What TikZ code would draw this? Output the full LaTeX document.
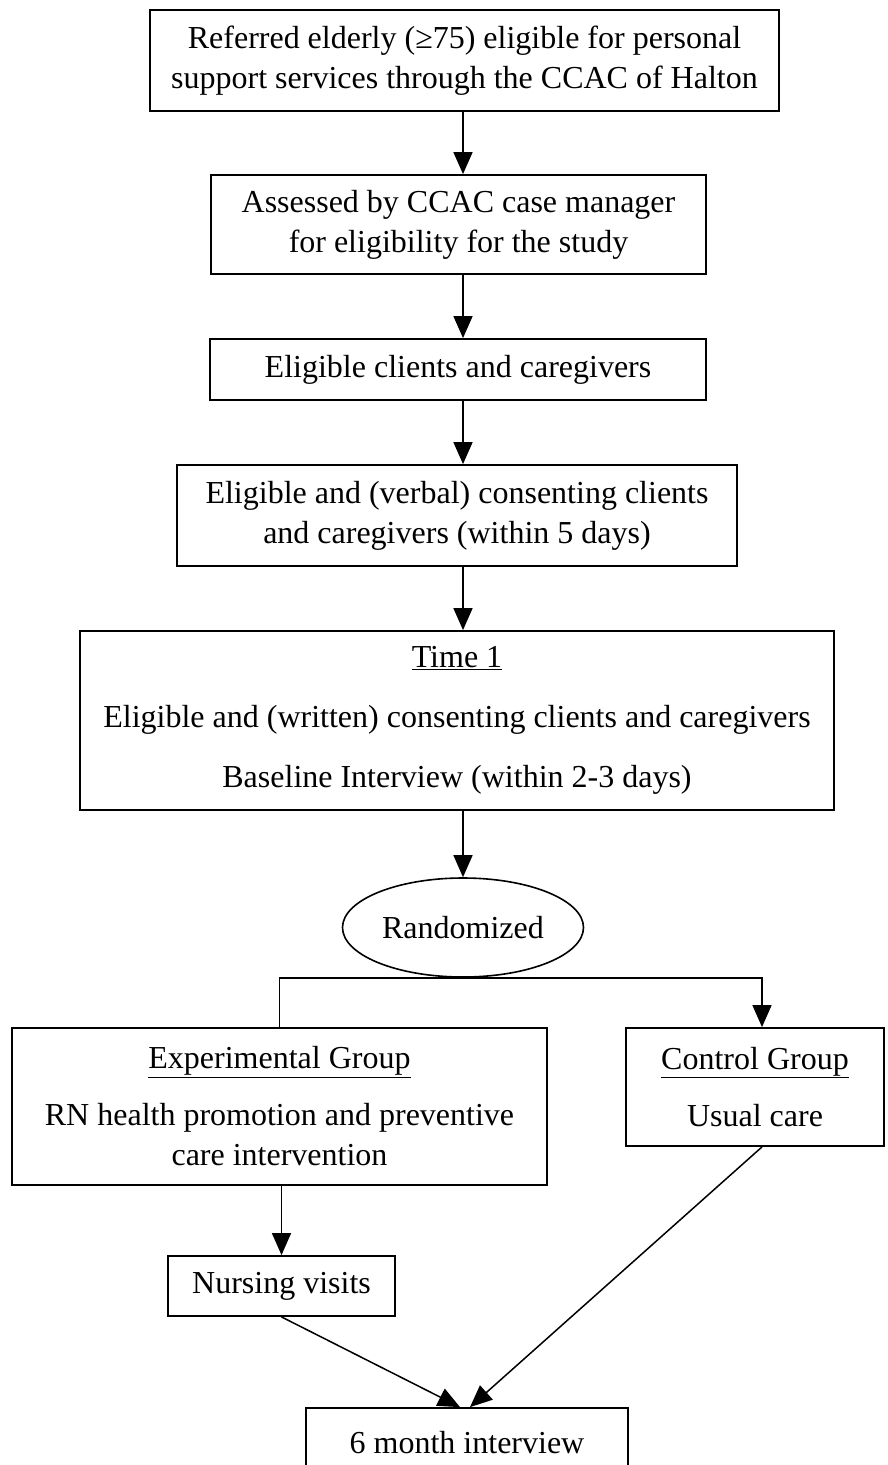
\documentclass[tikz,border=0pt]{standalone}
\usepackage{fontspec}
\setmainfont{Liberation Serif}
\usetikzlibrary{arrows.meta,shapes.geometric}

\begin{document}
\begin{tikzpicture}[x=1pt,y=-1pt,
    every node/.style={font=\fontsize{32}{40}\selectfont},
    stage/.style={draw, line width=1.8pt, align=center, inner sep=0pt},
    flow/.style={line width=1.5pt, -{Triangle[length=22pt,width=19pt]}}]
  \useasboundingbox (0,0) rectangle (888,1465);

  % main column
  \node[stage, minimum width=629pt, minimum height=101pt] (refer) at (464.5,60.5)
    {Referred elderly (≥75) eligible for personal\\support services through the CCAC of Halton};
  \node[stage, minimum width=495pt, minimum height=99pt] (assess) at (458.5,224.5)
    {Assessed by CCAC case manager\\for eligibility for the study};
  \node[stage, minimum width=496pt, minimum height=61pt] (elig) at (458,369.5)
    {Eligible clients and caregivers};
  \node[stage, minimum width=560pt, minimum height=101pt] (consent) at (457,515.5)
    {Eligible and (verbal) consenting clients\\and caregivers (within 5 days)};
  \node[stage, minimum width=754pt, minimum height=179pt] (time1) at (457,720.5)
    {\underline{Time 1}\\[20pt]Eligible and (written) consenting clients and caregivers\\[20pt]Baseline Interview (within 2-3 days)};
  \node[draw, ellipse, line width=1.6pt, inner sep=0pt, minimum width=241pt, minimum height=99pt] (rand) at (463,927.5)
    {Randomized};

  % the two arms
  \node[stage, minimum width=535pt, minimum height=157pt] (exp) at (279.5,1106.5)
    {\underline{Experimental Group}\\[17pt]RN health promotion and preventive\\care intervention};
  \node[stage, minimum width=258pt, minimum height=118pt] (ctrl) at (755,1087)
    {\underline{Control Group}\\[17pt]Usual care};
  \node[stage, minimum width=227pt, minimum height=60pt] (nurse) at (281.5,1286)
    {Nursing visits};
  \node[stage, minimum width=322pt, minimum height=70pt] (six) at (467,1443)
    {6 month interview};

  \draw[flow] (refer.south -| rand) -- (assess.north -| rand);
  \draw[flow] (assess.south -| rand) -- (elig.north -| rand);
  \draw[flow] (elig.south -| rand) -- (consent.north -| rand);
  \draw[flow] (consent.south -| rand) -- (time1.north -| rand);
  \draw[flow] (time1.south -| rand) -- (rand.north);

  \draw[line width=1.5pt] (rand.south) -| (exp.north);
  \draw[flow] (rand.south) -| ([xshift=7pt]ctrl.north);
  \draw[flow] (nurse.north |- exp.south) -- (nurse.north);
  \draw[flow] (nurse.south) -- ([xshift=-7pt]six.north);
  \draw[flow] ([xshift=7pt]ctrl.south) -- ([xshift=3pt]six.north);
\end{tikzpicture}
\end{document}
